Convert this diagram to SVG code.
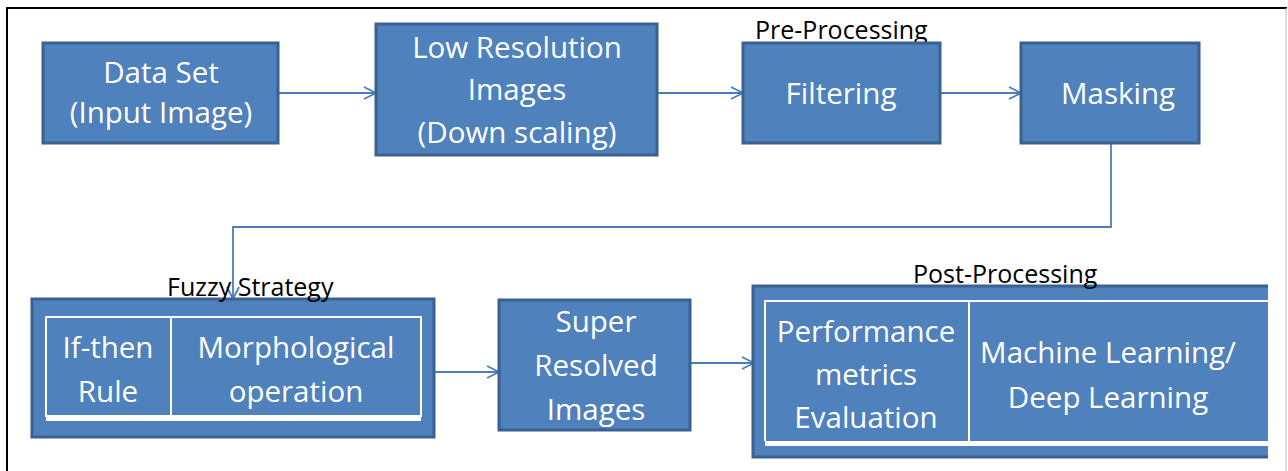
<svg xmlns="http://www.w3.org/2000/svg" width="1288" height="471" viewBox="0 0 1288 471">
  <style>
    .box { fill: #4F81BD; stroke: #3A6190; stroke-width: 3; }
    .t { fill: #FFFFFF; font-family: "Open Sans", "Noto Sans", sans-serif; font-size: 29.5px; text-anchor: middle; }
    .l { fill: #000000; font-family: "Open Sans", "Noto Sans", sans-serif; font-size: 25px; }
    .in { fill: none; stroke: #FFFFFF; stroke-width: 2; }
    .c { fill: none; stroke: #4A7EBB; stroke-width: 1.8; }
  </style>
  <defs>
    <marker id="arr" viewBox="0 0 14 14" refX="13" refY="7" markerWidth="14" markerHeight="14" markerUnits="userSpaceOnUse" orient="auto">
      <path d="M1,1 L13,7 L1,13" fill="none" stroke="#4A7EBB" stroke-width="1.8"/>
    </marker>
  </defs>
  <rect x="0" y="0" width="1288" height="471" fill="#FFFFFF"/>
  <g id="frame">
    <line x1="7" y1="8" x2="7" y2="471" stroke="#000" stroke-width="2"/>
    <line x1="6" y1="8" x2="1287" y2="8" stroke="#000" stroke-width="2"/>
    <line x1="1286" y1="8" x2="1286" y2="471" stroke="#BBBBBB" stroke-width="1"/>
  </g>
  <g id="connectors">
    <line class="c" x1="278" y1="93" x2="376" y2="93" marker-end="url(#arr)"/>
    <line class="c" x1="657" y1="93" x2="743" y2="93" marker-end="url(#arr)"/>
    <line class="c" x1="940" y1="93" x2="1021" y2="93" marker-end="url(#arr)"/>
    <polyline class="c" points="1111,143 1111,227 233,227 233,299" marker-end="url(#arr)"/>
    <line class="c" x1="421" y1="372" x2="499" y2="372" marker-end="url(#arr)"/>
    <line class="c" x1="690" y1="363" x2="754" y2="363" marker-end="url(#arr)"/>
  </g>
  <g id="dataset">
    <rect class="box" x="43" y="43" width="235" height="100"/>
    <text class="t" x="161" y="83">Data Set</text>
    <text class="t" x="161" y="123">(Input Image)</text>
  </g>
  <g id="lowres">
    <rect class="box" x="376" y="24" width="281" height="131"/>
    <text class="t" x="517" y="58">Low Resolution</text>
    <text class="t" x="517" y="100">Images</text>
    <text class="t" x="517" y="143">(Down scaling)</text>
  </g>
  <g id="filtering">
    <text class="l" x="755" y="39">Pre-Processing</text>
    <rect class="box" x="743" y="43" width="197" height="100"/>
    <text class="t" x="841" y="104">Filtering</text>
  </g>
  <g id="masking">
    <rect class="box" x="1021" y="43" width="178" height="100"/>
    <text class="t" x="1118" y="104">Masking</text>
  </g>
  <g id="fuzzy">
    <rect class="box" x="32" y="299" width="402" height="138"/>
    <rect class="in" x="46" y="317" width="375" height="99"/>
    <rect x="46" y="416" width="375" height="5" fill="#FFFFFF"/>
    <line class="in" x1="171" y1="317" x2="171" y2="416"/>
    <text class="l" x="167" y="296">Fuzzy Strategy</text>
    <text class="t" x="108" y="358">If-then</text>
    <text class="t" x="108" y="402">Rule</text>
    <text class="t" x="296" y="358">Morphological</text>
    <text class="t" x="296" y="402">operation</text>
  </g>
  <g id="superres">
    <rect class="box" x="499" y="300" width="191" height="130"/>
    <text class="t" x="596" y="332">Super</text>
    <text class="t" x="596" y="376">Resolved</text>
    <text class="t" x="596" y="420">Images</text>
  </g>
  <g id="postproc">
    <rect x="753" y="286" width="515" height="171" fill="#4F81BD"/>
    <path d="M1268,286 H753 V457 H1268" fill="none" stroke="#3A6190" stroke-width="3"/>
    <path d="M1268,301 H765 V441" fill="none" stroke="#FFFFFF" stroke-width="2"/>
    <rect x="765" y="441" width="503" height="5" fill="#FFFFFF"/>
    <line class="in" x1="969" y1="301" x2="969" y2="441"/>
    <text class="l" x="913" y="283">Post-Processing</text>
    <text class="t" x="866" y="342">Performance</text>
    <text class="t" x="866" y="385">metrics</text>
    <text class="t" x="866" y="428">Evaluation</text>
    <text class="t" x="1108" y="363">Machine Learning/</text>
    <text class="t" x="1108" y="408">Deep Learning</text>
  </g>
</svg>
